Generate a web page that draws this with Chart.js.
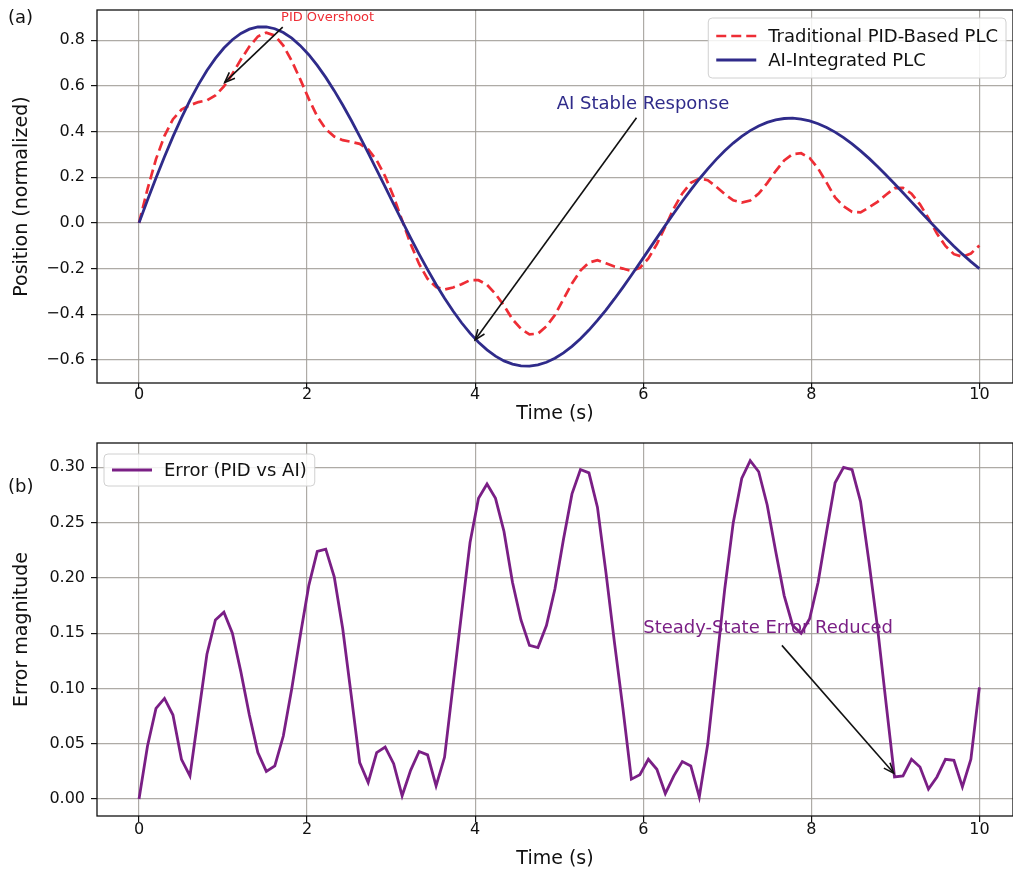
<!DOCTYPE html>
<html>
<head>
<meta charset="utf-8">
<script src="https://cdn.jsdelivr.net/npm/chart.js@4.4.1/dist/chart.umd.min.js"></script>
<style>
    html, body { margin: 0; padding: 0; background: #fff; }
    #wrap { position: relative; width: 1013px; height: 873px; overflow: hidden; }
    canvas { position: absolute; left: 0; }
</style>
</head>
<body>
<div id="wrap">
    <canvas id="pos-chart" width="1013" height="437" style="top:0"></canvas>
    <canvas id="err-chart" width="1013" height="436" style="top:437px"></canvas>
</div>
<script>
// Time samples (s)
const timeS = [
    0, 0.101, 0.202, 0.303, 0.404, 0.505, 0.606, 0.707, 0.808, 0.909,
    1.010, 1.111, 1.212, 1.313, 1.414, 1.515, 1.616, 1.717, 1.818, 1.919,
    2.020, 2.121, 2.222, 2.323, 2.424, 2.525, 2.626, 2.727, 2.828, 2.929,
    3.030, 3.131, 3.232, 3.333, 3.434, 3.535, 3.636, 3.737, 3.838, 3.939,
    4.040, 4.141, 4.242, 4.343, 4.444, 4.545, 4.646, 4.747, 4.848, 4.949,
    5.051, 5.152, 5.253, 5.354, 5.455, 5.556, 5.657, 5.758, 5.859, 5.960,
    6.061, 6.162, 6.263, 6.364, 6.465, 6.566, 6.667, 6.768, 6.869, 6.970,
    7.071, 7.172, 7.273, 7.374, 7.475, 7.576, 7.677, 7.778, 7.879, 7.980,
    8.081, 8.182, 8.283, 8.384, 8.485, 8.586, 8.687, 8.788, 8.889, 8.990,
    9.091, 9.192, 9.293, 9.394, 9.495, 9.596, 9.697, 9.798, 9.899, 10
];

// Position, traditional PID-based PLC
const pidPosition = [
    0, 0.148, 0.279, 0.381, 0.454, 0.496, 0.515, 0.529, 0.536, 0.558,
    0.597, 0.652, 0.715, 0.772, 0.816, 0.833, 0.820, 0.776, 0.709, 0.628,
    0.543, 0.466, 0.411, 0.378, 0.362, 0.355, 0.346, 0.322, 0.274, 0.204,
    0.114, 0.011, -0.092, -0.180, -0.245, -0.281, -0.292, -0.283, -0.269, -0.251,
    -0.251, -0.271, -0.311, -0.362, -0.422, -0.464, -0.488, -0.485, -0.453, -0.403,
    -0.334, -0.265, -0.209, -0.174, -0.163, -0.177, -0.191, -0.200, -0.211, -0.197,
    -0.156, -0.093, -0.016, 0.064, 0.129, 0.175, 0.194, 0.187, 0.158, 0.126,
    0.099, 0.089, 0.098, 0.128, 0.174, 0.227, 0.273, 0.301, 0.305, 0.284,
    0.238, 0.176, 0.111, 0.073, 0.048, 0.046, 0.068, 0.092, 0.123, 0.152,
    0.153, 0.128, 0.081, 0.021, -0.047, -0.101, -0.137, -0.148, -0.134, -0.099
];

// Position, AI-integrated PLC
const aiPosition = [
    0, 0.0998, 0.1966, 0.2895, 0.3776, 0.4600, 0.5362, 0.6053, 0.6669, 0.7204,
    0.7656, 0.8020, 0.8295, 0.8481, 0.8576, 0.8582, 0.8500, 0.8334, 0.8085, 0.7760,
    0.7361, 0.6896, 0.6370, 0.5789, 0.5161, 0.4492, 0.3791, 0.3066, 0.2324, 0.1572,
    0.0820, 0.0075, -0.0656, -0.1366, -0.2047, -0.2694, -0.3301, -0.3861, -0.4373, -0.4828,
    -0.5226, -0.5561, -0.5834, -0.6042, -0.6183, -0.6260, -0.6271, -0.6217, -0.6102, -0.5926,
    -0.5693, -0.5408, -0.5072, -0.4693, -0.4272, -0.3816, -0.3331, -0.2822, -0.2293, -0.1752,
    -0.1204, -0.0655, -0.0110, 0.0425, 0.0946, 0.1446, 0.1921, 0.2367, 0.2781, 0.3157,
    0.3494, 0.3789, 0.4039, 0.4243, 0.4400, 0.4508, 0.4569, 0.4582, 0.4547, 0.4467,
    0.4343, 0.4177, 0.3973, 0.3731, 0.3458, 0.3153, 0.2823, 0.2470, 0.2100, 0.1715,
    0.1320, 0.0921, 0.0519, 0.0121, -0.0271, -0.0653, -0.1020, -0.1369, -0.1697, -0.2002
];

// Error magnitude |PID - AI|
const errorMag = [
    0.000, 0.048, 0.082, 0.091, 0.076, 0.036, 0.021, 0.076, 0.131, 0.162,
    0.169, 0.150, 0.115, 0.076, 0.042, 0.025, 0.030, 0.057, 0.100, 0.148,
    0.193, 0.224, 0.226, 0.201, 0.154, 0.094, 0.033, 0.015, 0.042, 0.047,
    0.032, 0.003, 0.026, 0.043, 0.040, 0.012, 0.038, 0.103, 0.168, 0.232,
    0.272, 0.285, 0.272, 0.242, 0.196, 0.162, 0.139, 0.137, 0.157, 0.190,
    0.235, 0.276, 0.298, 0.295, 0.264, 0.205, 0.142, 0.082, 0.018, 0.022,
    0.036, 0.027, 0.005, 0.021, 0.034, 0.030, 0.002, 0.050, 0.120, 0.190,
    0.250, 0.290, 0.306, 0.296, 0.266, 0.224, 0.184, 0.157, 0.150, 0.163,
    0.196, 0.242, 0.286, 0.300, 0.298, 0.269, 0.214, 0.155, 0.087, 0.020,
    0.021, 0.036, 0.029, 0.009, 0.020, 0.036, 0.035, 0.011, 0.036, 0.101
];

// Tick labels
const timeTicks = [0, 2, 4, 6, 8, 10];
const posTicks = [-0.6, -0.4, -0.2, 0.0, 0.2, 0.4, 0.6, 0.8];
const errTicks = [0, 0.05, 0.10, 0.15, 0.20, 0.25, 0.30];

const FONT = "'DejaVu Sans', sans-serif";
const GRID = 'rgba(160, 156, 150, 0.85)';

function toPoints(values) {
    return timeS.map((t, i) => ({ x: t, y: values[i] }));
}

function drawArrow(ctx, x0, y0, x1, y1) {
    ctx.beginPath();
    ctx.moveTo(x0, y0);
    ctx.lineTo(x1, y1);
    ctx.stroke();
    const a = Math.atan2(y1 - y0, x1 - x0);
    const h = 11, w = 0.38;
    ctx.beginPath();
    ctx.moveTo(x1 - h * Math.cos(a - w), y1 - h * Math.sin(a - w));
    ctx.lineTo(x1, y1);
    ctx.lineTo(x1 - h * Math.cos(a + w), y1 - h * Math.sin(a + w));
    ctx.stroke();
}

// no extra room for half tick labels, the plot box is set by layout padding
function noAxisPadding(axis) {
    axis.paddingTop = 0;
    axis.paddingBottom = 0;
    axis.paddingLeft = 0;
    axis.paddingRight = 0;
}

// Box around the plot area, like matplotlib spines
const frame = {
    id: 'frame',
    afterDatasetsDraw(chart) {
        const { ctx, chartArea: a } = chart;
        ctx.save();
        ctx.strokeStyle = '#111';
        ctx.lineWidth = 1.3;
        ctx.strokeRect(a.left, a.top, a.right - a.left, a.bottom - a.top);
        ctx.restore();
    }
};

// Arrows with text, placed in data coordinates
const notes = {
    id: 'notes',
    afterDraw(chart, args, opts) {
        const { ctx } = chart;
        const xs = chart.scales.x, ys = chart.scales.y;
        (opts.list || []).forEach(n => {
            ctx.save();
            ctx.font = n.font;
            ctx.fillStyle = n.color;
            ctx.textAlign = 'left';
            ctx.textBaseline = 'alphabetic';
            ctx.fillText(n.text, xs.getPixelForValue(n.at[0]), ys.getPixelForValue(n.at[1]));
            ctx.strokeStyle = '#111';
            ctx.lineWidth = 1.6;
            drawArrow(ctx,
                xs.getPixelForValue(n.from[0]), ys.getPixelForValue(n.from[1]),
                xs.getPixelForValue(n.to[0]), ys.getPixelForValue(n.to[1]));
            ctx.restore();
        });
        if (opts.panel) {
            ctx.save();
            ctx.font = '18px ' + FONT;
            ctx.fillStyle = '#111';
            ctx.textBaseline = 'middle';
            ctx.fillText(opts.panel.text, opts.panel.x, opts.panel.y);
            ctx.restore();
        }
    }
};

// matplotlib style legend box inside the axes
const boxLegend = {
    id: 'boxLegend',
    afterDraw(chart, args, opts) {
        const { ctx, chartArea: a } = chart;
        const sets = chart.data.datasets;
        ctx.save();
        ctx.font = opts.font;
        const textW = Math.max(...sets.map(d => ctx.measureText(d.label).width));
        const padX = 8, sample = 40, gap = 12, rowH = 24, padY = opts.padY;
        const w = padX + sample + gap + textW + padX;
        const h = padY * 2 + rowH * sets.length;
        const x = opts.align === 'right' ? a.right - opts.inset - w : a.left + opts.inset;
        const y = a.top + opts.insetTop;

        ctx.beginPath();
        ctx.roundRect(x, y, w, h, 4);
        ctx.fillStyle = 'rgba(255,255,255,0.85)';
        ctx.fill();
        ctx.strokeStyle = '#d0d0d0';
        ctx.lineWidth = 1;
        ctx.stroke();

        sets.forEach((d, i) => {
            const cy = y + padY + rowH * i + rowH / 2;
            ctx.strokeStyle = d.borderColor;
            ctx.lineWidth = d.borderWidth;
            ctx.setLineDash(d.borderDash || []);
            ctx.beginPath();
            ctx.moveTo(x + padX, cy);
            ctx.lineTo(x + padX + sample, cy);
            ctx.stroke();
            ctx.setLineDash([]);
            ctx.fillStyle = '#111';
            ctx.textBaseline = 'middle';
            ctx.fillText(d.label, x + padX + sample + gap, cy + 1);
        });
        ctx.restore();
    }
};

function xScale(height, tickPad, titlePad) {
    return {
        type: 'linear',
        min: -0.5,
        max: 10.4,
        afterBuildTicks: axis => { axis.ticks = timeTicks.map(v => ({ value: v })); },
        afterFit: axis => { axis.height = height; noAxisPadding(axis); },
        ticks: { color: '#111', font: { family: FONT, size: 16 }, padding: tickPad, maxRotation: 0 },
        grid: { color: GRID, lineWidth: 1.2, tickColor: '#111', tickLength: 6 },
        border: { display: false },
        title: { display: true, text: 'Time (s)', color: '#111', font: { family: FONT, size: 19 }, padding: { top: 0, bottom: titlePad } }
    };
}

function yScale(min, max, values, digits, title) {
    return {
        min: min,
        max: max,
        afterBuildTicks: axis => { axis.ticks = values.map(v => ({ value: v })); },
        afterFit: axis => { axis.width = 97; noAxisPadding(axis); },
        ticks: {
            color: '#111',
            font: { family: FONT, size: 16 },
            padding: 6,
            callback: v => v.toFixed(digits).replace('-', '\u2212')
        },
        grid: { color: GRID, lineWidth: 1.2, tickColor: '#111', tickLength: 6 },
        border: { display: false },
        title: { display: true, text: title, color: '#111', font: { family: FONT, size: 19 }, padding: { top: 11, bottom: 0 } }
    };
}

Chart.defaults.font.family = FONT;

new Chart(document.getElementById('pos-chart'), {
    type: 'line',
    data: {
        datasets: [
            {
                label: 'Traditional PID-Based PLC',
                data: toPoints(pidPosition),
                borderColor: '#ee2d35',
                borderWidth: 2.7,
                borderDash: [10, 5],
                pointRadius: 0,
                order: 1
            },
            {
                label: 'AI-Integrated PLC',
                data: toPoints(aiPosition),
                borderColor: '#2f2b8a',
                borderWidth: 2.8,
                pointRadius: 0,
                order: 0
            }
        ]
    },
    options: {
        responsive: false,
        animation: false,
        devicePixelRatio: 1,
        layout: { padding: { top: 10, right: 0, bottom: 0, left: 0 } },
        plugins: {
            legend: { display: false },
            tooltip: { enabled: false },
            boxLegend: { font: '18px ' + FONT, align: 'right', inset: 7, insetTop: 8, padY: 6 },
            notes: {
                panel: { text: '(a)', x: 8, y: 18 },
                list: [
                    { text: 'PID Overshoot', font: '13px ' + FONT, color: '#ee2d35', at: [1.69, 0.884], from: [1.71, 0.857], to: [1.02, 0.615] },
                    { text: 'AI Stable Response', font: '18px ' + FONT, color: '#2f2b8a', at: [4.97, 0.5], from: [5.92, 0.46], to: [4.0, -0.512] }
                ]
            }
        },
        scales: {
            x: xScale(54, -4, 12),
            y: yScale(-0.701, 0.932, posTicks, 1, 'Position (normalized)')
        }
    },
    plugins: [frame, boxLegend, notes]
});

new Chart(document.getElementById('err-chart'), {
    type: 'line',
    data: {
        datasets: [
            {
                label: 'Error (PID vs AI)',
                data: toPoints(errorMag),
                borderColor: '#7a1f85',
                borderWidth: 2.8,
                pointRadius: 0
            }
        ]
    },
    options: {
        responsive: false,
        animation: false,
        devicePixelRatio: 1,
        layout: { padding: { top: 6, right: 0, bottom: 0, left: 0 } },
        plugins: {
            legend: { display: false },
            tooltip: { enabled: false },
            boxLegend: { font: '18px ' + FONT, align: 'left', inset: 7, insetTop: 11, padY: 4 },
            notes: {
                panel: { text: '(b)', x: 8, y: 50 },
                list: [
                    { text: 'Steady-State Error Reduced', font: '18px ' + FONT, color: '#7a1f85', at: [6.0, 0.15], from: [7.65, 0.139], to: [8.98, 0.0235] }
                ]
            }
        },
        scales: {
            x: xScale(57, -2, 3),
            y: yScale(-0.0153, 0.322, errTicks, 2, 'Error magnitude')
        }
    },
    plugins: [frame, boxLegend, notes]
});
</script>
</body>
</html>
